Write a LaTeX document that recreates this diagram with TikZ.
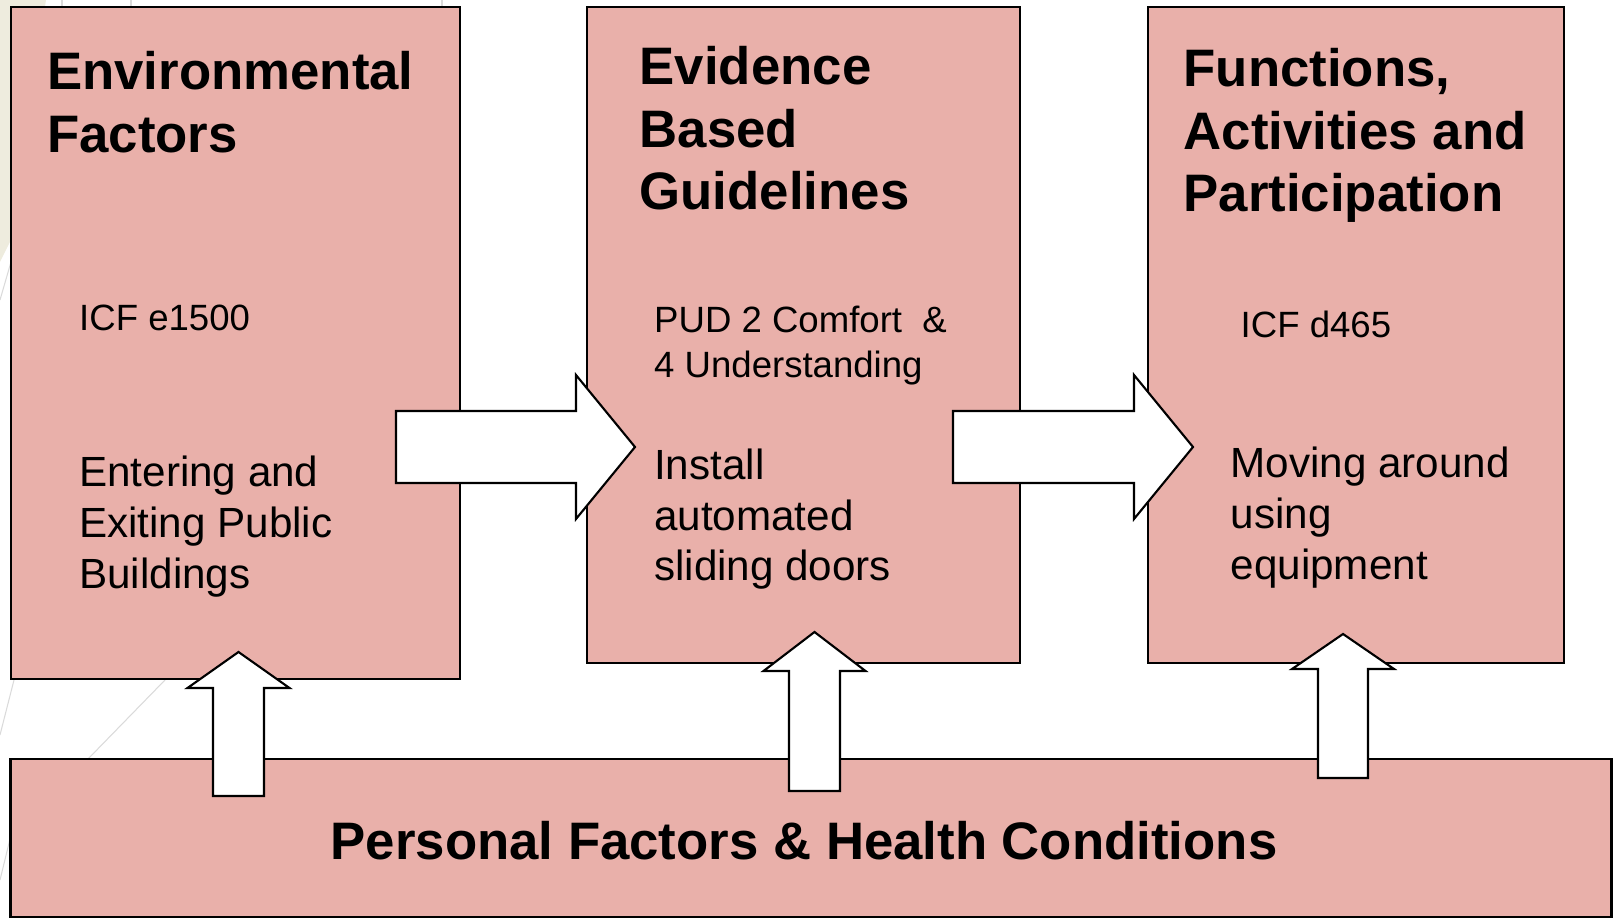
\documentclass[tikz,border=0pt]{standalone}
\usepackage{fontspec}
\setmainfont{Liberation Sans}
\usetikzlibrary{calc}
\definecolor{boxpink}{RGB}{233,176,170}
\definecolor{slidebeige}{RGB}{238,236,222}
\definecolor{slidegrey}{RGB}{218,218,218}
\tikzset{
  box/.style={draw=black, fill=boxpink, line width=0.6pt, inner sep=0pt, outer sep=0pt},
  blockarrow/.style={draw=black, fill=white, line width=0.6pt, line join=miter},
  headtxt/.style={anchor=base west, inner sep=0pt, align=left, font=\bfseries\fontsize{15}{17.9}\selectfont},
  icftxt/.style={anchor=base west, inner sep=0pt, align=left, font=\fontsize{10.4}{12.8}\selectfont},
  bodytxt/.style={anchor=base west, inner sep=0pt, align=left, font=\fontsize{12}{14.4}\selectfont},
}

\begin{document}
\begin{tikzpicture}[x=0.01cm, y=-0.01cm]
  \useasboundingbox (0,0) rectangle (1613,919);
  % Hintergrund der Folie
  \fill[slidebeige] (0,0) -- (46,0) -- (11,240) -- (0,262) -- cycle;
  \draw[slidegrey, line width=0.3pt] (0,300) -- (11,262);
  \draw[slidegrey, line width=0.3pt] (0,735) -- (14,680);
  \draw[slidegrey, line width=0.3pt] (88,759) -- (165,680);
  \draw[slidegrey, line width=0.3pt] (0,880) -- (11,835);
  \draw[slidegrey, line width=0.3pt] (62,0) -- (62,7);
  \draw[slidegrey, line width=0.3pt] (131,0) -- (131,7);
  \draw[slidegrey, line width=0.3pt] (442,0) -- (442,7);
  % Kaesten
  \node[box, minimum width=4.49cm, minimum height=6.72cm] (env) at (235.5,343) {};
  \node[box, minimum width=4.33cm, minimum height=6.56cm] (evd) at (803.5,335) {};
  \node[box, minimum width=4.16cm, minimum height=6.56cm] (fun) at (1356,335) {};
  \node[box, minimum width=16.00cm, minimum height=1.58cm] (pers) at (811,838) {};
  % Pfeile nach rechts
  \coordinate (envout) at (396,447);
  \coordinate (evdin) at (635,447);
  \draw[blockarrow] ($(envout)+(0,-36)$) -- ($(evdin)+(-59,-36)$) -- ($(evdin)+(-59,-72)$) -- (evdin)
    -- ($(evdin)+(-59,72)$) -- ($(evdin)+(-59,36)$) -- ($(envout)+(0,36)$) -- cycle;
  \coordinate (evdout) at (953,447);
  \coordinate (funin) at (1193,447);
  \draw[blockarrow] ($(evdout)+(0,-36)$) -- ($(funin)+(-59,-36)$) -- ($(funin)+(-59,-72)$) -- (funin)
    -- ($(funin)+(-59,72)$) -- ($(funin)+(-59,36)$) -- ($(evdout)+(0,36)$) -- cycle;
  % Pfeile nach oben
  \coordinate (persenv) at (238.5,796);
  \coordinate (envin) at (238.5,652);
  \draw[blockarrow] ($(persenv)+(-25.5,0)$) -- ($(envin)+(-25.5,36)$) -- ($(envin)+(-51,36)$) -- (envin)
    -- ($(envin)+(51,36)$) -- ($(envin)+(25.5,36)$) -- ($(persenv)+(25.5,0)$) -- cycle;
  \coordinate (persevd) at (814.5,791);
  \coordinate (evdup) at (814.5,632);
  \draw[blockarrow] ($(persevd)+(-25.5,0)$) -- ($(evdup)+(-25.5,39)$) -- ($(evdup)+(-51,39)$) -- (evdup)
    -- ($(evdup)+(51,39)$) -- ($(evdup)+(25.5,39)$) -- ($(persevd)+(25.5,0)$) -- cycle;
  \coordinate (persfun) at (1343,778);
  \coordinate (funup) at (1343,634);
  \draw[blockarrow] ($(persfun)+(-25,0)$) -- ($(funup)+(-25,35)$) -- ($(funup)+(-51,35)$) -- (funup)
    -- ($(funup)+(51,35)$) -- ($(funup)+(25,35)$) -- ($(persfun)+(25,0)$) -- cycle;
  % Texte (Grundlinie = letzte Zeile)
  \node[headtxt] (envhead) at (46.5,152.4) {Environmental\\Factors};
  \node[headtxt] (evdhead) at (639,210) {Evidence\\Based\\Guidelines};
  \node[headtxt] (funhead) at (1183,212) {Functions,\\Activities and\\Participation};
  \node[icftxt] (envcode) at (78.5,331) {ICF e1500};
  \node[icftxt] (evdcode) at (653.5,378) {PUD 2 Comfort\ \ \&\\4 Understanding};
  \node[icftxt] (funcode) at (1240,338) {ICF d465};
  \node[bodytxt] (envtext) at (78.5,588) {Entering and\\Exiting Public\\Buildings};
  \node[bodytxt] (evdtext) at (653.5,580.7) {Install\\automated\\sliding doors};
  \node[bodytxt] (funtext) at (1230,579) {Moving around\\using\\equipment};
  \node[anchor=base, inner sep=0pt, font=\bfseries\fontsize{15}{17.9}\selectfont] (perstext) at (804,859) {Personal Factors \& Health Conditions};
\end{tikzpicture}
\end{document}
